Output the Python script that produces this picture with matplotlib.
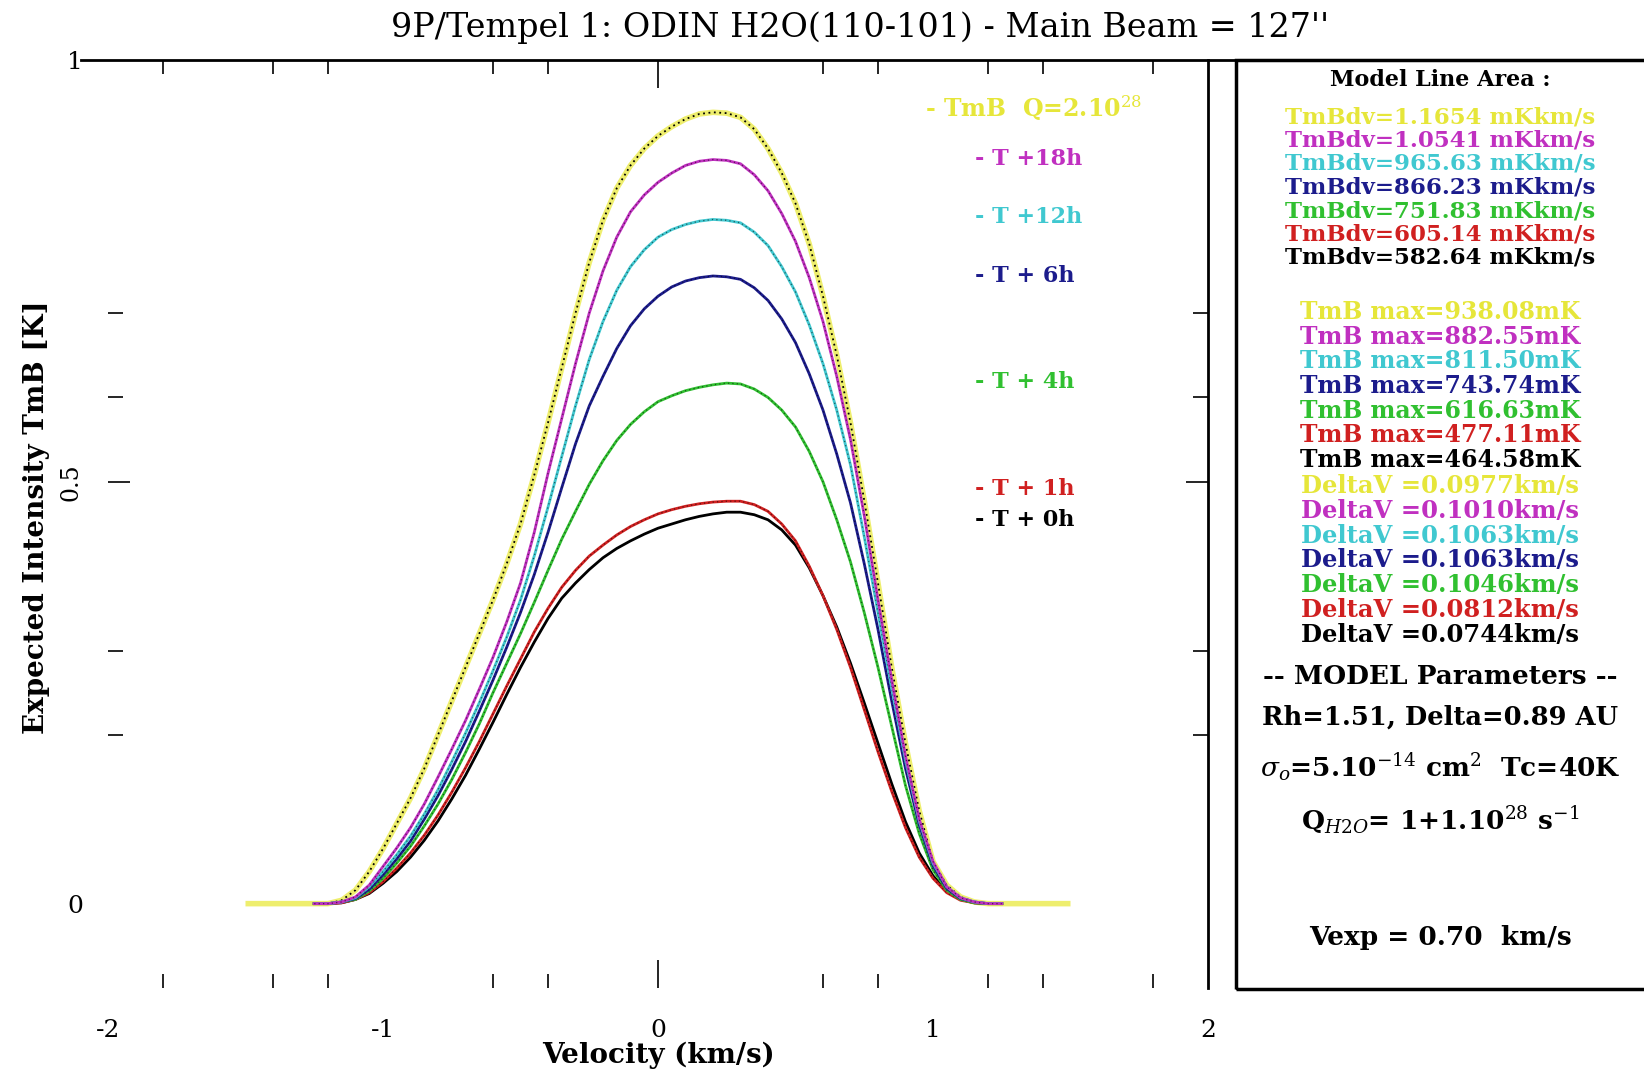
import matplotlib
matplotlib.use('Agg')
from matplotlib import pyplot as plt
from matplotlib.patches import Rectangle

W, H = 1644, 1079

# velocity grid (km/s)
velocity = [-1.25, -1.2, -1.15, -1.1, -1.05, -1.0, -0.95, -0.9, -0.85, -0.8, -0.75, -0.7,
            -0.65, -0.6, -0.55, -0.5, -0.45, -0.4, -0.35, -0.3, -0.25, -0.2, -0.15, -0.1,
            -0.05, 0.0, 0.05, 0.1, 0.15, 0.2, 0.25, 0.3, 0.35, 0.4, 0.45, 0.5, 0.55, 0.6,
            0.65, 0.7, 0.75, 0.8, 0.85, 0.9, 0.95, 1.0, 1.05, 1.1, 1.15, 1.2, 1.25]
velocity_wide = [-1.5] + velocity + [1.5]

# expected TmB [K] for each model run
tmb_q2 = [0, 0, 0.004, 0.016, 0.038, 0.065, 0.095, 0.125, 0.16, 0.20, 0.24, 0.28,
          0.32, 0.36, 0.403, 0.45, 0.508, 0.57, 0.635, 0.70, 0.76, 0.81, 0.848, 0.875,
          0.895, 0.91, 0.921, 0.93, 0.936, 0.938, 0.937, 0.932, 0.918, 0.895, 0.866, 0.83, 0.782, 0.72,
          0.65, 0.57, 0.478, 0.38, 0.28, 0.19, 0.11, 0.05, 0.022, 0.008, 0.002, 0, 0]
tmb_18h = [0, 0, 0.002, 0.008, 0.022, 0.044, 0.066, 0.09, 0.118, 0.15, 0.183, 0.217,
           0.254, 0.292, 0.334, 0.38, 0.44, 0.51, 0.575, 0.64, 0.70, 0.75, 0.79, 0.82,
           0.84, 0.855, 0.866, 0.875, 0.88, 0.882, 0.881, 0.877, 0.864, 0.845, 0.818, 0.785, 0.742, 0.69,
           0.625, 0.55, 0.46, 0.36, 0.265, 0.175, 0.10, 0.05, 0.02, 0.007, 0.002, 0, 0]
tmb_12h = [0, 0, 0.002, 0.007, 0.02, 0.038, 0.058, 0.08, 0.106, 0.135, 0.168, 0.202,
           0.238, 0.276, 0.316, 0.36, 0.412, 0.47, 0.53, 0.59, 0.645, 0.69, 0.727, 0.755,
           0.775, 0.79, 0.799, 0.805, 0.809, 0.811, 0.81, 0.807, 0.796, 0.78, 0.755, 0.725, 0.686, 0.64,
           0.585, 0.52, 0.435, 0.345, 0.255, 0.17, 0.098, 0.048, 0.02, 0.007, 0.002, 0, 0]
tmb_6h = [0, 0, 0.002, 0.006, 0.017, 0.034, 0.053, 0.074, 0.1, 0.128, 0.159, 0.192,
          0.228, 0.265, 0.304, 0.345, 0.39, 0.44, 0.493, 0.545, 0.59, 0.625, 0.658, 0.685,
          0.705, 0.72, 0.731, 0.738, 0.742, 0.744, 0.743, 0.74, 0.73, 0.715, 0.693, 0.665, 0.628, 0.585,
          0.533, 0.475, 0.403, 0.325, 0.24, 0.16, 0.093, 0.045, 0.018, 0.006, 0.002, 0, 0]
tmb_4h = [0, 0, 0.002, 0.005, 0.015, 0.03, 0.048, 0.068, 0.092, 0.118, 0.147, 0.179,
          0.213, 0.25, 0.285, 0.32, 0.357, 0.395, 0.432, 0.465, 0.497, 0.525, 0.549, 0.568,
          0.583, 0.595, 0.602, 0.608, 0.612, 0.615, 0.617, 0.616, 0.61, 0.60, 0.585, 0.565, 0.536, 0.50,
          0.455, 0.405, 0.345, 0.28, 0.21, 0.14, 0.083, 0.04, 0.016, 0.005, 0.001, 0, 0]
tmb_1h = [0, 0, 0.001, 0.005, 0.013, 0.026, 0.042, 0.06, 0.081, 0.105, 0.132, 0.161,
          0.192, 0.225, 0.258, 0.29, 0.322, 0.35, 0.375, 0.395, 0.412, 0.425, 0.437, 0.447,
          0.455, 0.462, 0.467, 0.471, 0.474, 0.476, 0.477, 0.477, 0.473, 0.465, 0.45, 0.43, 0.40, 0.365,
          0.325, 0.28, 0.23, 0.18, 0.133, 0.09, 0.055, 0.03, 0.013, 0.004, 0.001, 0, 0]
tmb_0h = [0, 0, 0.001, 0.005, 0.012, 0.024, 0.038, 0.055, 0.075, 0.098, 0.124, 0.152,
          0.183, 0.215, 0.248, 0.28, 0.31, 0.338, 0.362, 0.38, 0.396, 0.41, 0.421, 0.43,
          0.438, 0.445, 0.45, 0.455, 0.459, 0.462, 0.464, 0.464, 0.461, 0.455, 0.443, 0.425, 0.398, 0.365,
          0.328, 0.285, 0.238, 0.19, 0.142, 0.097, 0.06, 0.033, 0.015, 0.005, 0.001, 0, 0]

series = [tmb_0h, tmb_1h, tmb_4h, tmb_6h, tmb_12h, tmb_18h]
series_colors = ['#000000', '#d02020', '#30c030', '#1c1c8c', '#40c8d0', '#c030c0']
yellow = '#e8e830'

legend_labels = ['- TmB  Q=2.10$^{28}$', '- T +18h', '- T +12h', '- T + 6h', '- T + 4h', '- T + 1h', '- T + 0h']
text_colors = ['#e6e63a', '#c030c0', '#40c8d0', '#1c1c8c', '#30c030', '#d02020', '#000000']

area_vals = ['1.1654', '1.0541', '965.63', '866.23', '751.83', '605.14', '582.64']
tmb_max = ['938.08', '882.55', '811.50', '743.74', '616.63', '477.11', '464.58']
delta_v = ['0.0977', '0.1010', '0.1063', '0.1063', '0.1046', '0.0812', '0.0744']

x_labels = ['-2', '-1', '0', '1', '2']
x_minor = [-1.8, -1.4, -1.2, -0.6, -0.4, 0.6, 0.8, 1.2, 1.4, 1.8]
y_minor = [0.2, 0.3, 0.6, 0.7]

plt.rcParams['font.family'] = ['DejaVu Serif']
plt.rcParams['mathtext.fontset'] = 'dejavuserif'

fig = plt.figure(figsize=(W / 100, H / 100), dpi=100)
ax = fig.add_axes([108 / W, (H - 988) / H, 1100 / W, (988 - 60) / H])
ax.set_xlim(-2, 2)
ax.set_ylim(-0.1, 1)


def fx(x):
    return x / W


def fy(y):
    return 1 - y / H


# curves: coloured line with a dark dotted trace on top
ax.plot(velocity_wide, [0.0] + tmb_q2 + [0.0], color=yellow, lw=4, alpha=0.7,
        solid_capstyle='butt', solid_joinstyle='round')
ax.plot(velocity, tmb_q2, color='k', lw=1.3, ls=(0, (1, 2)))
for vals, c in zip(series, series_colors):
    ax.plot(velocity, vals, color=c, lw=2.0, solid_joinstyle='round')
    ax.plot(velocity, vals, color='k', lw=0.9, ls=(0, (1, 2.5)), alpha=0.55)

# axes frame: only top and right lines
for s in ['left', 'bottom']:
    ax.spines[s].set_visible(False)
ax.spines['top'].set_linewidth(2)
ax.spines['right'].set_linewidth(2)
ax.spines['top'].set_bounds(-2.1, 2.1)

ax.set_xticks([-2, -1, 0, 1, 2])
ax.set_xticklabels(x_labels, fontsize=18)
ax.set_xticks(x_minor, minor=True)
ax.tick_params(axis='x', which='both', top=True, bottom=True, direction='in', pad=22, width=1.2)
ax.tick_params(axis='x', which='major', length=20)
ax.tick_params(axis='x', which='minor', length=10)
for t, v in zip(ax.xaxis.get_major_ticks(), [-2, -1, 0, 1, 2]):
    if v != 0:
        t.tick1line.set_visible(False)
        t.tick2line.set_visible(False)

ax.set_yticks([0, 0.5, 1])
ax.set_yticklabels(['0', '', '1'], fontsize=18)
ax.set_yticks(y_minor, minor=True)
ax.tick_params(axis='y', which='both', left=True, right=True, direction='in', pad=18, width=1.2)
ax.tick_params(axis='y', which='major', length=16)
ax.tick_params(axis='y', which='minor', length=11)
for t, v in zip(ax.yaxis.get_major_ticks(), [0, 0.5, 1]):
    if v != 0.5:
        t.tick1line.set_visible(False)
        t.tick2line.set_visible(False)
ax.annotate('0.5', xy=(-2, 0.5), xytext=(-37, 0), textcoords='offset pixels', rotation=90,
            fontsize=17, ha='center', va='center', annotation_clip=False)

ax.set_xlabel('Velocity (km/s)', fontsize=20, fontweight='bold', labelpad=0)
fig.text(fx(37), fy(517), 'Expected Intensity TmB [K]', rotation=90, fontsize=20,
         fontweight='bold', ha='center', va='center')

fig.text(fx(860), fy(28), "9P/Tempel 1: ODIN H2O(110-101) - Main Beam = 127''",
         fontsize=24, ha='center', va='center')

# labels beside the curves
legend_y = [108, 159, 217, 276, 382, 489, 520]
legend_x = [925, 975, 975, 975, 975, 975, 975]
for lbl, c, xx, yy in zip(legend_labels, text_colors, legend_x, legend_y):
    fig.text(fx(xx), fy(yy), lbl, color=c, fontsize=17 if c == text_colors[0] else 16,
             fontweight='bold', ha='left', va='center')

# right panel
fig.patches.append(Rectangle((fx(1236), fy(989)), fx(1700 - 1236), (989 - 60) / H,
                             transform=fig.transFigure, fill=False, lw=2.5, ec='k'))
cx = 1440
fig.text(fx(cx), fy(80), 'Model Line Area :', fontsize=16, fontweight='bold', ha='center', va='center')
for i, c in enumerate(text_colors):
    fig.text(fx(cx), fy(117 + 23.5 * i), 'TmBdv=' + area_vals[i] + ' mKkm/s', color=c,
             fontsize=16.5, fontweight='bold', ha='center', va='center')
    fig.text(fx(cx), fy(312 + 24.7 * i), 'TmB max=' + tmb_max[i] + 'mK', color=c,
             fontsize=17, fontweight='bold', ha='center', va='center')
    fig.text(fx(cx), fy(486 + 24.8 * i), 'DeltaV =' + delta_v[i] + 'km/s', color=c,
             fontsize=17.5, fontweight='bold', ha='center', va='center')

fig.text(fx(cx), fy(677), '-- MODEL Parameters --', fontsize=19, fontweight='bold', ha='center', va='center')
fig.text(fx(cx), fy(717), 'Rh=1.51, Delta=0.89 AU', fontsize=18.5, fontweight='bold', ha='center', va='center')
fig.text(fx(cx), fy(767), r'$\sigma_o$=5.10$^{-14}$ cm$^{2}$  Tc=40K', fontsize=19,
         fontweight='bold', ha='center', va='center')
fig.text(fx(cx), fy(820), r'Q$_{H2O}$= 1+1.10$^{28}$ s$^{-1}$', fontsize=19,
         fontweight='bold', ha='center', va='center')
fig.text(fx(cx), fy(937), 'Vexp = 0.70  km/s', fontsize=19, fontweight='bold', ha='center', va='center')

fig.savefig('out.png', dpi=100)
